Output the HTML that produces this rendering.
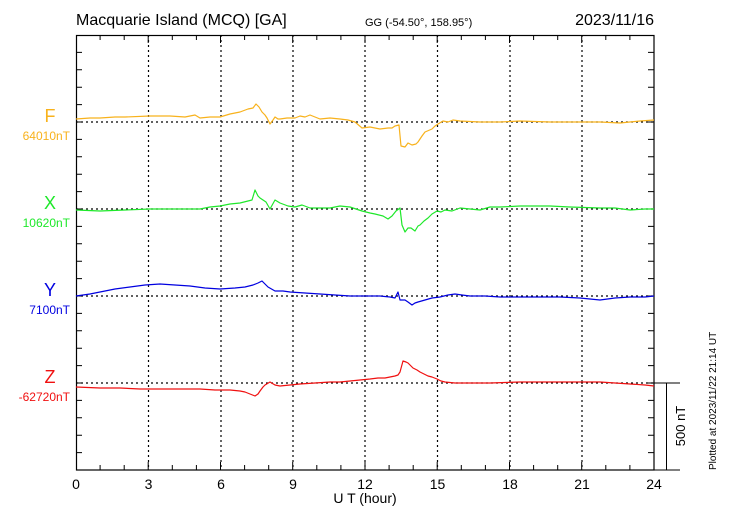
<!DOCTYPE html>
<html><head><meta charset="utf-8"><style>body{margin:0;background:#fff}</style></head><body>
<svg width="730" height="520" xmlns="http://www.w3.org/2000/svg" font-family="Liberation Sans, Arial, sans-serif">
<rect width="730" height="520" fill="#fff"/>
<g stroke="#000" stroke-width="1.2" stroke-dasharray="2,3">
<line x1="148.5" y1="35" x2="148.5" y2="470"/><line x1="221" y1="35" x2="221" y2="470"/><line x1="293" y1="35" x2="293" y2="470"/><line x1="365" y1="35" x2="365" y2="470"/><line x1="437.5" y1="35" x2="437.5" y2="470"/><line x1="510" y1="35" x2="510" y2="470"/><line x1="582" y1="35" x2="582" y2="470"/>
<line x1="76" y1="122" x2="654" y2="122"/><line x1="76" y1="209" x2="654" y2="209"/><line x1="76" y1="296" x2="654" y2="296"/><line x1="76" y1="383" x2="654" y2="383"/>
</g>
<rect x="76.5" y="35.5" width="577.5" height="434.5" fill="none" stroke="#000" stroke-width="1.2"/>
<line x1="654" y1="383" x2="680" y2="383" stroke="#000"/><line x1="654" y1="470" x2="680" y2="470" stroke="#000"/><line x1="666.5" y1="383" x2="666.5" y2="470" stroke="#000"/>
<path stroke="#000" stroke-width="1" fill="none" d="
M100.1 35v5M124.2 35v5M148.2 35v8M172.3 35v5M196.4 35v5M220.5 35v8M244.6 35v5M268.7 35v5M292.7 35v8M316.8 35v5M340.9 35v5M365 35v8M389.1 35v5M413.2 35v5M437.2 35v8M461.3 35v5M485.4 35v5M509.5 35v8M533.6 35v5M557.7 35v5M581.7 35v8M605.8 35v5M629.9 35v5
M100.1 470v-5M124.2 470v-5M148.2 470v-8M172.3 470v-5M196.4 470v-5M220.5 470v-8M244.6 470v-5M268.7 470v-5M292.7 470v-8M316.8 470v-5M340.9 470v-5M365 470v-8M389.1 470v-5M413.2 470v-5M437.2 470v-8M461.3 470v-5M485.4 470v-5M509.5 470v-8M533.6 470v-5M557.7 470v-5M581.7 470v-8M605.8 470v-5M629.9 470v-5
M76 452.6h6M76 435.2h6M76 417.8h6M76 400.4h6M76 383h6M76 365.6h6M76 348.2h6M76 330.8h6M76 313.4h6M76 296h6M76 278.6h6M76 261.2h6M76 243.8h6M76 226.4h6M76 209h6M76 191.6h6M76 174.2h6M76 156.8h6M76 139.4h6M76 122h6M76 104.6h6M76 87.2h6M76 69.8h6M76 52.4h6
M648 452.6h6M648 435.2h6M648 417.8h6M648 400.4h6M648 383h6M648 365.6h6M648 348.2h6M648 330.8h6M648 313.4h6M648 296h6M648 278.6h6M648 261.2h6M648 243.8h6M648 226.4h6M648 209h6M648 191.6h6M648 174.2h6M648 156.8h6M648 139.4h6M648 122h6M648 104.6h6M648 87.2h6M648 69.8h6M648 52.4h6"/>
<g fill="none" stroke-width="1.2" stroke-linejoin="round">
<polyline stroke="#f8b21c" points="76,119 90,118 100,118 115,117 125,117 150,116 170,116 185,117 195,115 200,118 210,117 220,117 230,114 240,112 248,109 253,108 256,104 259,107 262,112 265,115 267,118 270,124 273,120 275,117 278,119 280,119 287,118 295,118 300,116 305,117 310,115 320,119 330,118 340,119 348,120 355,122 362,128 370,127 380,129 388,128 392,128 395,126 399,125 401,146 405,147 408,143 412,145 416,144 418,142 422,136 425,132 432,129 435,126 438,124 443,121 448,122 453,120 460,121 480,122 500,122 520,121 550,122 580,122 600,122 620,123 640,121 654,120"/>
<polyline stroke="#1ee82a" points="76,210 100,211 125,210 150,209 175,209 200,209 210,207 220,206 230,204 240,203 252,200 255,190 258,196 260,198 263,200 266,202 270,209 275,200 280,203 288,206 295,207 302,205 310,208 320,208 330,208 340,206 350,207 356,209 362,211 370,213 375,214 383,216 388,219 392,216 396,211 400,208 402,225 405,232 408,228 411,228 415,231 418,226 420,225 424,221 428,218 432,214 437,211 441,212 445,210 452,211 460,208 470,209 480,210 490,207 500,207 520,206 550,206 570,207 600,208 615,208 630,210 645,209 654,209"/>
<polyline stroke="#0000e0" points="76,296 90,294 100,292 115,289 130,287 145,285 160,284 175,285 190,286 205,288 220,289 235,288 245,287 253,285 258,283 262,281 265,284 268,287 275,291 283,291 290,292 305,293 320,294 335,295 350,296 365,296 380,296 390,297 395,298 398,292 400,300 405,300 408,302 412,305 415,303 418,302 425,300 432,298 440,297 448,295 455,294 462,295 470,296 485,296 500,297 520,297 540,297 560,297 580,298 590,299 600,300 615,298 630,297 645,297 654,296"/>
<polyline stroke="#f01010" points="76,387 100,388 120,388 140,389 160,389 180,389 200,389 215,390 230,390 240,391 245,392 250,394 255,396 258,394 260,391 263,387 265,385 270,382 275,385 280,386 290,385 300,384 315,383 330,382 340,382 350,381 360,380 370,379 378,378 385,378 390,377 395,376 398,375 400,372 403,361 406,362 408,363 411,366 413,368 417,370 420,372 424,374 428,376 432,377 437,379 441,381 445,382 455,383 470,383 490,383 520,382 540,382 560,382 580,382 600,382 615,383 630,384 645,385 654,386"/>
</g>
<text x="76" y="25" font-size="16">Macquarie Island (MCQ)  [GA]</text>
<text x="365" y="26" font-size="11">GG (-54.50°, 158.95°)</text>
<text x="654" y="25" font-size="16" text-anchor="end">2023/11/16</text>
<g font-size="18" text-anchor="middle"><text x="50" y="122" fill="#f8b21c">F</text><text x="50" y="209" fill="#1ee82a">X</text><text x="50" y="296" fill="#0000e0">Y</text><text x="50" y="383" fill="#f01010">Z</text></g>
<g font-size="12" text-anchor="end"><text x="70" y="140" fill="#f8b21c">64010nT</text><text x="70" y="227" fill="#1ee82a">10620nT</text><text x="70" y="314" fill="#0000e0">7100nT</text><text x="70" y="401" fill="#f01010">-62720nT</text></g>
<g font-size="14" text-anchor="middle"><text x="76" y="489">0</text><text x="148.5" y="489">3</text><text x="221" y="489">6</text><text x="293" y="489">9</text><text x="365" y="489">12</text><text x="437.5" y="489">15</text><text x="510" y="489">18</text><text x="582" y="489">21</text><text x="654" y="489">24</text>
<text x="365" y="503">U T (hour)</text></g>
<text transform="translate(685,426) rotate(-90)" font-size="13" text-anchor="middle">500 nT</text>
<text transform="translate(716,470) rotate(-90)" font-size="10">Plotted at 2023/11/22 21:14 UT</text>
</svg>
</body></html>
